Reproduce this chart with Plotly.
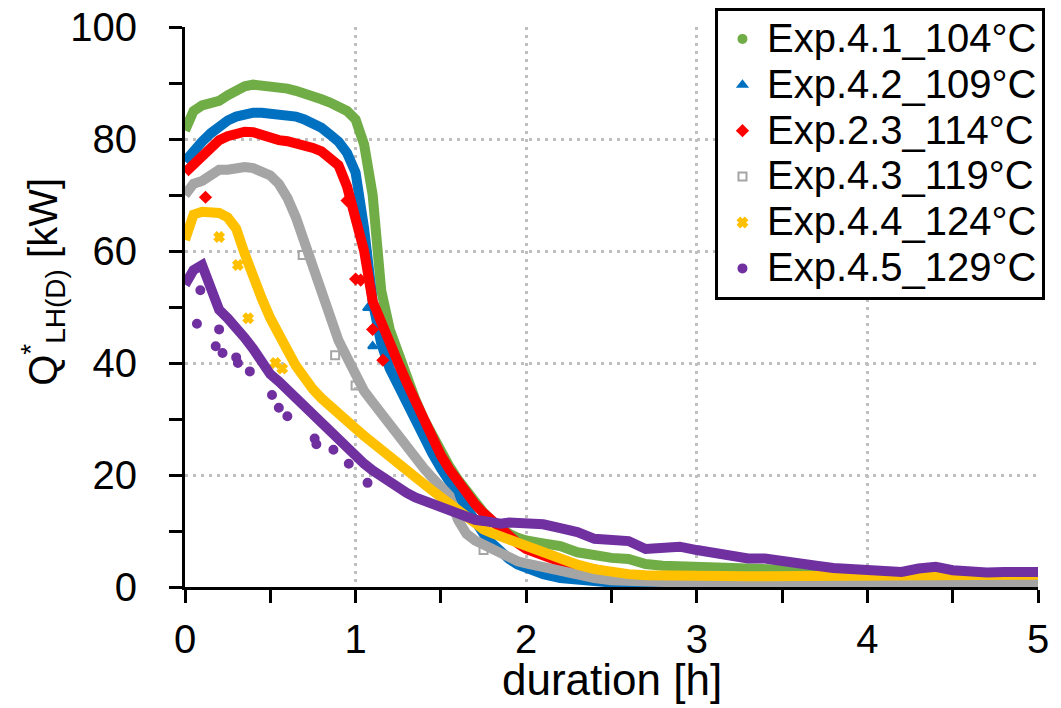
import plotly.graph_objects as go

# ---- data ----
time_h = [0.00, 0.05, 0.10, 0.15, 0.20, 0.25, 0.30, 0.35, 0.40, 0.45, 0.50, 0.55, 0.60, 0.65, 0.70,
          0.75, 0.80, 0.85, 0.90, 0.95, 1.00, 1.05, 1.10, 1.15, 1.20, 1.25, 1.30, 1.35, 1.40, 1.45,
          1.50, 1.55, 1.60, 1.65, 1.70, 1.75, 1.80, 1.85, 1.90, 1.95, 2.00,
          2.1, 2.2, 2.3, 2.4, 2.5, 2.6, 2.7, 2.8, 2.9, 3.0, 3.1, 3.2, 3.3, 3.4, 3.5, 3.6, 3.7, 3.8,
          3.9, 4.0, 4.1, 4.2, 4.3, 4.4, 4.5, 4.6, 4.7, 4.8, 4.9, 5.0]

exp41_104 = [81.5, 85.0, 86.0, 86.3, 86.8, 87.8, 88.7, 89.4, 89.7, 89.6, 89.4, 89.3, 89.0, 88.6, 88.2,
             87.6, 87.1, 86.5, 85.9, 85.0, 83.5, 79.0, 70.0, 53.0, 46.0, 41.5, 37.5, 33.5, 30.0, 27.0,
             24.0, 21.5, 19.2, 17.0, 15.0, 13.3, 11.8, 10.5, 9.5, 8.8, 8.3,
             7.8, 7.3, 6.2, 5.5, 5.2, 5.0, 4.1, 3.8, 3.7, 3.6, 3.5, 3.4, 3.3, 3.0, 2.8, 2.6, 2.5, 2.4,
             2.3, 2.2, 2.1, 2.0, 2.0, 1.9, 1.9, 1.8, 1.8, 1.7, 1.7, 1.7]

exp42_109 = [76.0, 78.0, 79.5, 81.0, 82.3, 83.3, 84.0, 84.5, 84.7, 84.7, 84.6, 84.5, 84.3, 84.0, 83.5,
             82.8, 82.0, 80.8, 79.5, 77.5, 74.0, 64.0, 51.0, 43.5, 39.0, 36.0, 32.8, 29.6, 26.6, 23.8,
             21.2, 18.7, 16.2, 13.8, 11.5, 9.5, 7.8, 6.3, 5.0, 4.0, 3.3,
             2.3, 1.6, 1.2, 1.0, 0.8, 0.7, 0.6, 0.5, 0.5, 0.4, 0.4, 0.4, 0.3, 0.3, 0.3, 0.3, 0.3, 0.3,
             0.3, 0.3, 0.3, 0.3, 0.3, 0.3, 0.3, 0.3, 0.3, 0.3, 0.3, 0.3]

exp23_114 = [74.0, 75.5, 77.0, 78.5, 79.8, 80.5, 81.0, 81.3, 81.2, 80.6, 80.0, 79.8, 79.6, 79.3, 79.0,
             78.4, 77.8, 76.8, 75.3, 71.5, 66.0, 60.0, 51.0, 47.0, 43.5, 40.0, 36.5, 33.0, 29.5, 26.5,
             23.5, 21.0, 18.7, 16.7, 14.8, 13.2, 11.8, 10.3, 9.0, 7.8, 6.8,
             5.5, 4.5, 3.7, 3.0, 2.4, 2.0, 1.6, 1.3, 1.1, 1.0, 0.9, 0.8, 0.8, 0.7, 0.7, 0.6, 0.6, 0.6,
             0.5, 0.5, 0.5, 0.5, 0.5, 0.5, 0.5, 0.5, 0.5, 0.5, 0.5, 0.5]

exp43_119 = [70.0, 72.0, 72.5, 73.5, 74.5, 74.5, 74.8, 75.0, 74.8, 74.3, 73.5, 72.0, 69.5, 66.0, 61.5,
             57.0, 52.5, 48.0, 44.0, 41.0, 38.0, 35.0, 33.0, 31.0, 28.8, 26.5, 24.7, 23.0, 21.2, 19.5,
             18.0, 16.3, 12.0, 9.5, 8.3, 7.5, 6.6, 5.8, 5.1, 4.6, 4.2,
             3.5, 2.8, 2.1, 1.6, 1.2, 1.0, 0.9, 0.8, 0.8, 0.7, 0.7, 0.7, 0.7, 0.7, 0.7, 0.7, 0.7, 0.7,
             0.7, 0.7, 0.7, 0.7, 0.7, 0.7, 0.7, 0.7, 0.7, 0.7, 0.7, 0.7]

exp44_124 = [62.0, 66.5, 67.0, 67.0, 66.8, 66.0, 64.0, 59.5, 55.0, 51.5, 48.0, 44.8, 42.3, 39.5, 37.3,
             35.3, 33.7, 32.2, 31.0, 29.8, 28.3, 27.0, 25.7, 24.4, 23.2, 22.0, 20.8, 19.6, 18.4, 17.2,
             16.0, 14.8, 13.5, 12.3, 11.2, 10.3, 9.6, 9.0, 8.5, 7.8, 7.2,
             6.2, 5.0, 4.0, 3.2, 2.6, 2.3, 2.1, 2.0, 1.9, 1.9, 1.9, 1.9, 1.9, 1.9, 1.9, 2.0, 2.0, 1.9,
             1.9, 1.9, 1.9, 2.0, 2.0, 2.0, 2.0, 2.0, 2.0, 2.0, 2.1, 2.2]

exp45_129 = [54.0, 56.6, 57.5, 53.0, 49.5, 48.0, 46.5, 44.5, 42.5, 40.0, 38.0, 36.7, 35.2, 33.8, 32.2,
             30.5, 29.3, 28.0, 26.5, 25.0, 23.5, 22.0, 20.8, 19.7, 18.6, 17.6, 16.8, 16.0, 15.4, 14.8,
             14.2, 13.5, 12.9, 12.4, 12.0, 11.8, 11.5, 11.3, 11.5, 11.5, 11.4,
             11.2, 10.5, 9.8, 8.6, 8.3, 8.2, 6.8, 6.8, 7.2, 6.6, 6.0, 5.6, 5.1, 5.1, 4.8, 4.2, 3.8, 3.4,
             3.3, 3.0, 2.9, 2.7, 3.3, 3.6, 3.0, 2.7, 2.6, 2.7, 2.7, 2.7]

# scattered single points lying off the main bands
red_out_t = [0.12, 0.95, 1.00, 1.03, 1.10, 1.16]
red_out_q = [69.6, 69.0, 55.0, 54.8, 46.0, 40.5]
blue_out_t = [1.07, 1.10]
blue_out_q = [49.8, 43.0]
gray_out_t = [0.69, 0.88, 1.00, 1.75]
gray_out_q = [59.3, 41.4, 36.0, 6.6]
yellow_out_t = [0.20, 0.31, 0.37, 0.53, 0.57]
yellow_out_q = [62.5, 57.5, 48.0, 40.0, 39.0]
purple_out_t = [0.07, 0.09, 0.18, 0.20, 0.22, 0.30, 0.31, 0.38, 0.51, 0.55, 0.60, 0.76, 0.77, 0.87, 0.96, 1.07]
purple_out_q = [47.0, 53.0, 43.0, 46.0, 41.8, 41.0, 40.0, 38.5, 34.3, 32.0, 30.5, 26.5, 25.5, 24.5, 22.0, 18.6]

series_names = ["Exp.4.1_104°C", "Exp.4.2_109°C", "Exp.2.3_114°C",
                "Exp.4.3_119°C", "Exp.4.4_124°C", "Exp.4.5_129°C"]
x_ticks = [0, 1, 2, 3, 4, 5]
y_ticks = [0, 20, 40, 60, 80, 100]

# ---- styling ----
colors = ["#70AD47", "#0070C0", "#FF0000", "#A5A5A5", "#FFC000", "#7030A0"]
symbols = ["circle", "triangle-up", "diamond", "square-open", "x", "circle"]
series = [exp41_104, exp42_109, exp23_114, exp43_119, exp44_124, exp45_129]
outliers = [(None, None), (blue_out_t, blue_out_q), (red_out_t, red_out_q),
            (gray_out_t, gray_out_q), (yellow_out_t, yellow_out_q), (purple_out_t, purple_out_q)]

FONT = "Liberation Sans, Arial, sans-serif"
fig = go.Figure()

for i, (vals, col, sym) in enumerate(zip(series, colors, symbols)):
    fig.add_trace(go.Scatter(x=time_h, y=vals, mode="lines",
                             line=dict(color=col, width=10),
                             showlegend=False, hoverinfo="skip"))
    ot, oq = outliers[i]
    if ot:
        fig.add_trace(go.Scatter(x=ot, y=oq, mode="markers",
                                 marker=dict(color=col, symbol=sym, size=8,
                                             line=dict(color=col, width=2)),
                                 showlegend=False, hoverinfo="skip"))

# legend-only entries (marker only, like the reference)
for name, col, sym in zip(series_names, colors, symbols):
    fig.add_trace(go.Scatter(x=[None], y=[None], mode="markers",
                             name=f'<span style="font-size:40px">{name}</span>',
                             marker=dict(color=col, symbol=sym, size=8,
                                         line=dict(color=col, width=2))))

axis_common = dict(
    showline=True, linecolor="black", linewidth=3,
    ticks="outside", ticklen=13, tickwidth=3, tickcolor="black",
    showgrid=True, gridcolor="#BFBFBF", gridwidth=3, griddash="3px,5px",
    zeroline=False,
    tickfont=dict(family=FONT, size=40, color="black"),
)

fig.update_xaxes(range=[0, 5], tickvals=x_ticks, ticklabelstandoff=2,
                 minor=dict(dtick=0.5, ticks="outside", ticklen=13, tickwidth=3,
                            tickcolor="black", showgrid=False),
                 **axis_common)
fig.update_yaxes(range=[0, 100], tickvals=y_ticks, ticklabelstandoff=24,
                 minor=dict(dtick=10, ticks="outside", ticklen=13, tickwidth=3,
                            tickcolor="black", showgrid=False),
                 **axis_common)

fig.add_annotation(text="duration [h]", xref="paper", yref="paper",
                   x=0.5, y=-0.166, xanchor="center", yanchor="middle",
                   showarrow=False, font=dict(family=FONT, size=44, color="black"))
fig.add_annotation(text="Q<sup>*</sup><sub>LH(D)</sub> [kW]", xref="paper", yref="paper",
                   x=-0.1665, y=0.545, xanchor="center", yanchor="middle", textangle=-90,
                   showarrow=False, font=dict(family=FONT, size=40, color="black"))

fig.update_layout(
    width=1061, height=708,
    margin=dict(l=185, r=23, t=27, b=121, autoexpand=False),
    plot_bgcolor="white", paper_bgcolor="white",
    legend=dict(x=0.6213, y=1.034, xanchor="left", yanchor="top",
                bgcolor="white", bordercolor="black", borderwidth=3,
                itemwidth=39, tracegroupgap=0,
                font=dict(family=FONT, size=33, color="black")),
)

fig.write_html("out.html")
